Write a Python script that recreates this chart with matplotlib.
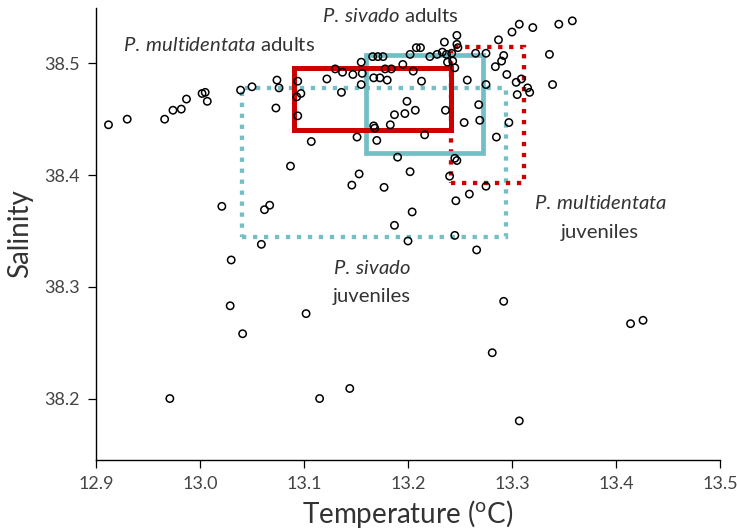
import matplotlib
matplotlib.use("Agg")
import matplotlib.pyplot as plt
from matplotlib.patches import Rectangle

plt.rcParams['font.family'] = ['Lato', 'DejaVu Sans']
plt.rcParams['mathtext.fontset'] = 'custom'
plt.rcParams['mathtext.rm'] = 'Lato'
plt.rcParams['mathtext.it'] = 'Lato:style=italic'

# CTD casts: temperature (deg C) and salinity
temperature = [
    12.912, 12.930, 12.966, 12.974, 12.982, 12.987, 13.002, 13.005, 13.007, 13.039,
    13.050, 13.074, 13.076, 13.073, 13.094, 13.097, 13.093, 13.094, 13.107, 13.087,
    13.122, 13.130, 13.137, 13.136, 13.147, 13.155, 13.156, 13.155, 13.151, 13.166,
    13.171, 13.176, 13.167, 13.173, 13.180, 13.178, 13.184, 13.167, 13.168, 13.170,
    13.183, 13.187, 13.197, 13.199, 13.207, 13.190, 13.195, 13.202, 13.205, 13.208,
    13.212, 13.213, 13.216, 13.236, 13.254, 13.268, 13.269, 13.285, 13.297, 13.202,
    13.153, 13.146, 13.177, 13.245, 13.247, 13.240, 13.259, 13.275, 13.221, 13.228,
    13.233, 13.237, 13.235, 13.247, 13.247, 13.248, 13.238, 13.243, 13.245, 13.257,
    13.265, 13.275, 13.287, 13.292, 13.290, 13.284, 13.295, 13.304, 13.309, 13.305,
    13.315, 13.317, 13.300, 13.307, 13.320, 13.336, 13.339, 13.345, 13.358, 13.275,
    13.204, 13.187, 13.200, 13.246, 13.245, 13.266, 13.292, 13.281, 13.307, 13.021,
    13.062, 13.067, 13.059, 13.030, 13.029, 13.041, 13.102, 12.971, 13.115, 13.144,
    13.414, 13.426, 13.242,
]
salinity = [
    38.445, 38.450, 38.450, 38.458, 38.459, 38.468, 38.473, 38.474, 38.466, 38.476,
    38.479, 38.485, 38.478, 38.460, 38.484, 38.473, 38.470, 38.453, 38.430, 38.408,
    38.486, 38.495, 38.492, 38.474, 38.490, 38.501, 38.491, 38.481, 38.434, 38.506,
    38.506, 38.506, 38.487, 38.487, 38.485, 38.495, 38.495, 38.444, 38.442, 38.431,
    38.445, 38.454, 38.455, 38.466, 38.458, 38.416, 38.499, 38.508, 38.493, 38.514,
    38.514, 38.484, 38.436, 38.458, 38.447, 38.463, 38.449, 38.434, 38.447, 38.403,
    38.401, 38.391, 38.389, 38.415, 38.413, 38.399, 38.383, 38.390, 38.506, 38.508,
    38.510, 38.508, 38.519, 38.525, 38.517, 38.514, 38.501, 38.502, 38.496, 38.485,
    38.509, 38.509, 38.521, 38.507, 38.502, 38.497, 38.490, 38.483, 38.486, 38.472,
    38.478, 38.474, 38.528, 38.535, 38.532, 38.508, 38.481, 38.535, 38.538, 38.481,
    38.367, 38.355, 38.341, 38.377, 38.346, 38.333, 38.287, 38.241, 38.180, 38.372,
    38.369, 38.373, 38.338, 38.324, 38.283, 38.258, 38.276, 38.200, 38.200, 38.209,
    38.267, 38.270, 38.509,
]

# Temperature/salinity ranges per group
groups = ["P. multidentata adults", "P. sivado adults",
          "P. multidentata juveniles", "P. sivado juveniles"]
t_min = [13.090, 13.160, 13.241, 13.040]
t_max = [13.241, 13.272, 13.312, 13.294]
s_min = [38.440, 38.420, 38.393, 38.345]
s_max = [38.496, 38.507, 38.515, 38.478]

RED = '#cc0000'
TEAL = '#72bfc6'
DOTS = (0, (1.0, 1.55))
box_style = [
    dict(edgecolor=RED, linewidth=3.6, linestyle='-', zorder=3),
    dict(edgecolor=TEAL, linewidth=3.4, linestyle='-', zorder=2.5),
    dict(edgecolor=RED, linewidth=3.1, linestyle=DOTS, zorder=2.4),
    dict(edgecolor=TEAL, linewidth=3.1, linestyle=DOTS, zorder=2.2),
]

fig = plt.figure(figsize=(7.37, 5.32), dpi=100)
ax = fig.add_axes([96 / 737, 1 - 460 / 532, 624 / 737, 452 / 532])

for i in range(len(groups)):
    ax.add_patch(Rectangle((t_min[i], s_min[i]), t_max[i] - t_min[i],
                           s_max[i] - s_min[i], facecolor='none',
                           **box_style[i]))

ax.scatter(temperature, salinity, s=28, facecolors='none', edgecolors='black',
           linewidths=1.1, zorder=4)

TXT = '#333333'
label_kw = dict(fontsize=14.6, color=TXT, ha='center', va='center')
ax.text(13.018, 38.516, r'$\mathit{P.\:multidentata}$ adults', **label_kw)
ax.text(13.183, 38.542, r'$\mathit{P.\:sivado}$ adults', **label_kw)
ax.text(13.385, 38.375, r'$\mathit{P.\:multidentata}$', **label_kw)
ax.text(13.384, 38.349, 'juveniles', **label_kw)
ax.text(13.165, 38.317, r'$\mathit{P.\:sivado}$', **label_kw)
ax.text(13.165, 38.291, 'juveniles', **label_kw)

ax.set_xlim(12.9, 13.5)
ax.set_ylim(38.145, 38.5495)
ax.set_xticks([12.9, 13.0, 13.1, 13.2, 13.3, 13.4, 13.5])
ax.set_xticklabels(['12.9', '13.0', '13.1', '13.2', '13.3', '13.4', '13.5'])
ax.set_yticks([38.2, 38.3, 38.4, 38.5])
ax.set_yticklabels(['38.2', '38.3', '38.4', '38.5'])

for side in ('top', 'right'):
    ax.spines[side].set_visible(False)
for side in ('left', 'bottom'):
    ax.spines[side].set_linewidth(1.0)
ax.tick_params(direction='out', length=5.5, width=0.9, labelsize=13,
               labelcolor='#444444', pad=6)

ax.set_xlabel(r'Temperature ($^{\mathregular{o}}$C)', fontsize=20, color=TXT,
              labelpad=4)
ax.set_ylabel('Salinity', fontsize=20, color=TXT, labelpad=8)

fig.savefig('out.png', dpi=100)
